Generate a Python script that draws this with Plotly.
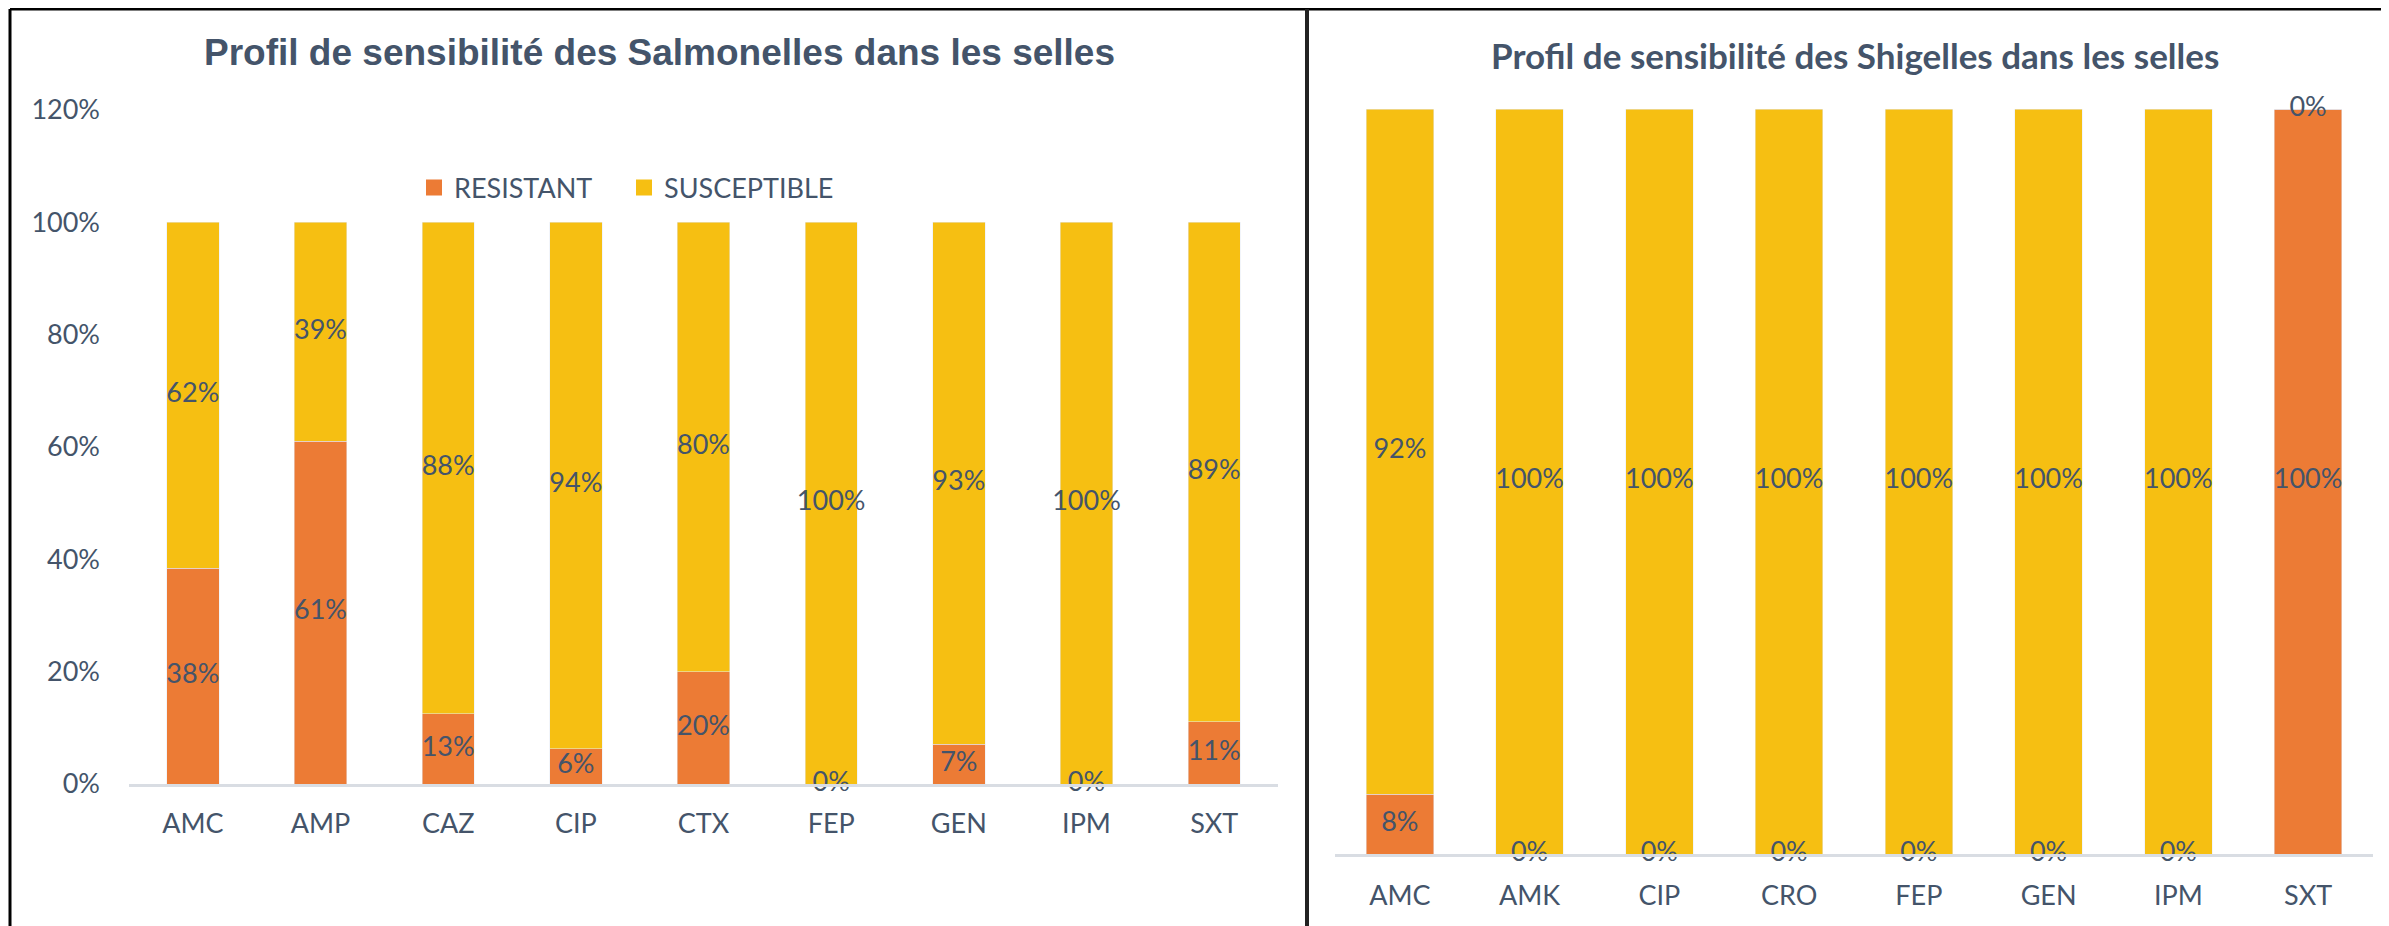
import plotly.graph_objects as go

# ---------------- data ----------------
salm_categories = ["AMC", "AMP", "CAZ", "CIP", "CTX", "FEP", "GEN", "IPM", "SXT"]
salm_resistant = [0.384, 0.61, 0.125, 0.0625, 0.20, 0.0, 0.071, 0.0, 0.111]
salm_susceptible = [0.616, 0.39, 0.875, 0.9375, 0.80, 1.0, 0.929, 1.0, 0.889]

shig_categories = ["AMC", "AMK", "CIP", "CRO", "FEP", "GEN", "IPM", "SXT"]
shig_resistant = [0.08, 0.0, 0.0, 0.0, 0.0, 0.0, 0.0, 1.0]
shig_susceptible = [0.92, 1.0, 1.0, 1.0, 1.0, 1.0, 1.0, 0.0]

series_names = ["RESISTANT", "SUSCEPTIBLE"]
title_left = "Profil de sensibilité des Salmonelles dans les selles"
title_right = "Profil de sensibilité des Shigelles dans les selles"
y_ticks_left = [0, 0.2, 0.4, 0.6, 0.8, 1.0, 1.2]

# ---------------- style ----------------
W, H = 2389, 926
OFF = 8  # page body margin
TXT = "#44546A"
C_RES = "#EC7B35"
C_SUS = "#F6BF12"
FONT = "Lato"


def pct(v):
    return f"{int(v * 100 + 0.5)}%"


def px_x(p):
    return (p - OFF) / W


def px_y(p):
    return 1 - (p - OFF) / H


fig = go.Figure()

panels = [
    (salm_categories, salm_resistant, salm_susceptible, "x", "y", 0.41),
    (shig_categories, shig_resistant, shig_susceptible, "x2", "y2", 0.52),
]

for cats, res, sus, xa, ya, bw in panels:
    fig.add_trace(go.Bar(x=cats, y=res, name=series_names[0], marker_color=C_RES,
                         width=bw, xaxis=xa, yaxis=ya, showlegend=False))
    fig.add_trace(go.Bar(x=cats, y=sus, name=series_names[1], marker_color=C_SUS,
                         width=bw, xaxis=xa, yaxis=ya, showlegend=False))
    # data labels centred in each segment
    fig.add_trace(go.Scatter(x=cats, y=[r / 2 for r in res], mode="text",
                             text=[pct(r) for r in res], xaxis=xa, yaxis=ya,
                             textfont=dict(family=FONT, size=27, color=TXT),
                             showlegend=False, cliponaxis=False, hoverinfo="skip"))
    fig.add_trace(go.Scatter(x=cats, y=[r + s / 2 for r, s in zip(res, sus)], mode="text",
                             text=[pct(s) for s in sus], xaxis=xa, yaxis=ya,
                             textfont=dict(family=FONT, size=27, color=TXT),
                             showlegend=False, cliponaxis=False, hoverinfo="skip"))

# legend entries (left chart), one legend box per series
for name, col, lg in zip(series_names, [C_RES, C_SUS], ["legend", "legend2"]):
    fig.add_trace(go.Scatter(x=[None], y=[None], mode="markers", name=name,
                             marker=dict(symbol="square", size=16, color=col),
                             xaxis="x", yaxis="y", showlegend=True, legend=lg))

legend_common = dict(orientation="h", xanchor="left", yanchor="middle",
                     font=dict(family=FONT, size=27, color=TXT), bgcolor="rgba(0,0,0,0)",
                     itemsizing="trace")

fig.update_layout(
    width=W, height=H,
    margin=dict(l=0, r=0, t=0, b=0, autoexpand=False),
    paper_bgcolor="white", plot_bgcolor="white",
    barmode="stack",
    font=dict(family=FONT, size=27, color=TXT),
    showlegend=True,
    legend=dict(x=px_x(414), y=px_y(188), **legend_common),
    legend2=dict(x=px_x(624), y=px_y(188), **legend_common),
    xaxis=dict(domain=[px_x(129), px_x(1278)], anchor="y", showgrid=False, automargin=False,
               showline=True, linecolor="#D9DDE3", linewidth=3, ticks="",
               tickfont=dict(family=FONT, size=27, color=TXT), ticklabelstandoff=14,
               fixedrange=True),
    yaxis=dict(domain=[px_y(784), px_y(110)], anchor="x", range=[0, 1.2], automargin=False,
               tickvals=y_ticks_left, tickformat=".0%", showgrid=False, zeroline=False,
               showline=False, ticks="", tickfont=dict(family=FONT, size=27, color=TXT),
               ticklabelstandoff=28, fixedrange=True),
    xaxis2=dict(domain=[px_x(1335), px_x(2373)], anchor="y2", showgrid=False, automargin=False,
                showline=True, linecolor="#D9DDE3", linewidth=3, ticks="",
                tickfont=dict(family=FONT, size=27, color=TXT), ticklabelstandoff=16,
                fixedrange=True),
    yaxis2=dict(domain=[px_y(854), px_y(109)], anchor="x2", range=[0, 1.0], automargin=False,
                visible=False, fixedrange=True),
)

# titles
fig.add_annotation(text=f"<b>{title_left}</b>", x=px_x(659), y=px_y(52), xref="paper", yref="paper",
                   showarrow=False, xanchor="center", yanchor="middle",
                   font=dict(family="Liberation Sans, Arial", size=37, color=TXT))
fig.add_annotation(text=f"<b>{title_right}</b>", x=px_x(1855), y=px_y(55), xref="paper", yref="paper",
                   showarrow=False, xanchor="center", yanchor="middle",
                   font=dict(family=FONT, size=35, color=TXT))

# frame lines
frame = dict(type="line", xref="paper", yref="paper", line=dict(color="black", width=3))
fig.add_shape(**frame, x0=px_x(10), x1=1, y0=px_y(9), y1=px_y(9))
fig.add_shape(**frame, x0=px_x(10), x1=px_x(10), y0=px_y(9), y1=0)
fig.add_shape(type="line", xref="paper", yref="paper", line=dict(color="#222222", width=4),
              x0=px_x(1307), x1=px_x(1307), y0=px_y(9), y1=0)

fig.write_html("out.html")
